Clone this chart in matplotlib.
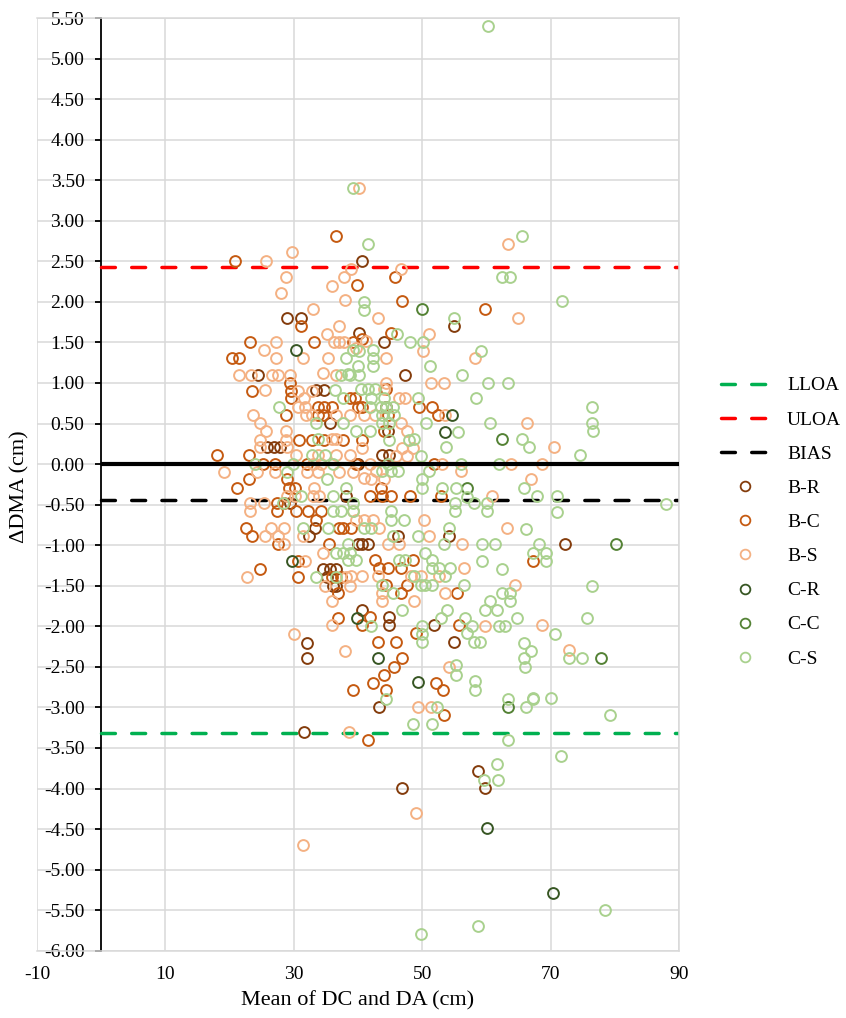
import matplotlib
matplotlib.use('Agg')
import matplotlib.pyplot as plt
from matplotlib.lines import Line2D

# limits of agreement
BIAS = -0.44
ULOA = 2.43
LLOA = -3.31
LINE_START, LINE_END = 0, 90   # reference lines run from the y axis to the right edge

# mean of DC and DA (x) and difference in DMA (y), per group
br_x = [40.6, 29.0, 31.1, 40.2, 44.1, 54.9, 47.3, 24.5, 33.4, 34.7, 35.7, 25.9, 26.9, 27.9,
        44.4, 44.6, 43.8, 44.9, 40.0, 38.2, 29.4, 33.3, 32.4, 34.6, 35.6, 36.6, 35.1, 36.1,
        36.6, 32.1, 32.1, 46.3, 54.2, 40.7, 41.5, 40.0, 40.7, 44.9, 44.9, 51.8, 54.9, 72.2,
        43.3, 31.6, 58.7, 59.8, 46.8]
br_y = [2.50, 1.80, 1.80, 1.62, 1.51, 1.70, 1.10, 1.10, 0.91, 0.91, 0.51, 0.21, 0.21, 0.21,
        0.71, 0.41, 0.11, 0.11, 0.00, -0.39, -0.48, -0.79, -0.89, -1.29, -1.29, -1.29, -1.39, -1.50,
        -1.50, -2.20, -2.39, -0.89, -0.89, -0.99, -0.99, -0.99, -1.80, -1.88, -1.99, -1.99, -2.19, -0.99,
        -3.00, -3.30, -3.79, -3.99, -3.99]

bc_x = [36.5, 20.8, 45.8, 39.8, 46.8, 59.8, 45.1, 31.1, 23.2, 33.2, 39.2, 20.4, 21.4, 23.5,
        29.4, 29.5, 29.5, 39.5, 28.8, 33.7, 34.7, 35.9, 33.7, 34.6, 30.8, 32.8, 34.7, 37.7,
        18.0, 23.0, 49.5, 51.6, 52.5, 40.7, 44.4, 38.7, 40.0, 40.7, 44.6, 44.1, 40.7,
        25.2, 27.1, 32.0, 39.7, 51.8,
        23.1, 21.2, 29.0, 30.2, 29.2, 27.4, 27.4, 28.4, 30.3, 32.2, 34.3, 33.4, 22.5, 23.5,
        27.5, 35.5, 37.1, 37.7, 38.9, 30.7, 24.7, 30.7, 36.9, 35.9, 37.4, 36.9, 39.3, 43.6,
        43.8, 45.1, 48.1, 53.0, 41.8, 42.6, 43.3, 44.6, 48.5, 46.7, 44.4, 47.7, 46.7, 55.4,
        41.8, 40.7, 49.0, 55.7, 43.1, 45.9, 46.9, 45.6, 44.1, 42.3, 52.1, 53.2, 44.4, 67.3,
        53.4, 41.6]
bc_y = [2.81, 2.50, 2.31, 2.21, 2.01, 1.91, 1.62, 1.70, 1.51, 1.51, 1.51, 1.31, 1.31, 0.90,
        1.00, 0.90, 0.81, 0.82, 0.61, 0.71, 0.71, 0.71, 0.61, 0.61, 0.30, 0.30, 0.30, 0.30,
        0.11, 0.11, 0.71, 0.71, 0.61, 1.54, 0.92, 0.82, 0.71, 0.71, 0.61, 0.41, 0.30,
        0.00, 0.00, 0.00, 0.00, 0.00,
        -0.19, -0.29, -0.19, -0.29, -0.29, -0.48, -0.58, -0.48, -0.58, -0.58, -0.58, -0.69, -0.79, -0.89,
        -0.99, -0.99, -0.79, -0.79, -0.79, -1.19, -1.29, -1.39, -1.59, -1.39, -1.39, -1.90, -2.79, -0.29,
        -0.39, -0.39, -0.39, -0.39, -0.39, -1.18, -1.28, -1.28, -1.18, -1.28, -1.49, -1.49, -1.59, -1.59,
        -1.88, -1.99, -2.08, -1.99, -2.19, -2.19, -2.39, -2.50, -2.60, -2.70, -2.70, -2.78, -2.78, -1.19,
        -3.09, -3.40]

bs_x = [40.2, 63.4, 25.7, 29.7, 46.7, 28.8, 28.0, 35.9, 37.8, 38.9, 37.9, 33.0, 43.1, 64.9,
        37.1, 35.1, 37.1, 36.2, 37.8, 27.2, 51.1, 25.4, 50.1, 27.3, 31.4, 35.3, 58.2, 44.3,
        39.7, 41.3, 21.4, 23.4, 26.6, 27.6, 29.4, 34.5, 36.5, 25.5, 30.7, 31.6, 32.8, 44.4,
        44.1, 51.3, 53.4, 46.4, 47.4, 23.6, 24.8, 24.8, 25.7, 30.7, 31.9, 32.8, 31.7, 36.6,
        38.7, 41.0, 42.6, 53.6, 66.3, 46.7, 47.7, 28.8, 28.8, 35.9, 36.6, 24.8, 28.9, 46.9,
        48.5, 40.7, 70.6, 36.6, 38.7, 30.4, 33.8, 45.9, 47.7,
        33.0, 34.3, 41.8, 53.1, 63.8, 68.7,
        19.1, 24.3, 27.1, 32.0, 33.8, 37.1, 39.2, 56.0, 42.8, 41.0, 42.0, 44.1, 66.9, 33.2,
        33.0, 34.0, 28.9, 30.2, 60.8, 23.2, 25.3, 23.2, 39.2, 50.3, 39.7, 41.0, 42.3, 43.3,
        63.2, 25.5, 26.4, 28.5, 27.5, 28.5, 31.4, 34.6, 31.7, 51.1, 56.2, 44.6, 46.4, 56.5,
        38.9, 40.7, 43.1, 48.2, 49.8, 52.6, 64.5, 53.6, 48.7, 43.8, 43.8, 22.7, 34.8, 38.7,
        38.2, 35.9, 35.9, 30.0, 38.0, 59.8, 54.1, 68.7, 72.8, 49.4, 51.3, 38.6, 49.0, 31.4]
bs_y = [3.41, 2.71, 2.50, 2.61, 2.41, 2.31, 2.11, 2.20, 2.31, 2.41, 2.02, 1.91, 1.80, 1.80,
        1.70, 1.61, 1.51, 1.51, 1.51, 1.51, 1.61, 1.41, 1.40, 1.31, 1.31, 1.31, 1.31, 1.31,
        1.43, 1.52, 1.10, 1.10, 1.10, 1.10, 1.10, 1.12, 1.10, 0.91, 0.90, 0.81, 0.90, 1.00,
        0.92, 1.00, 1.00, 0.82, 0.82, 0.61, 0.51, 0.30, 0.41, 0.71, 0.61, 0.61, 0.71, 0.61,
        0.61, 0.61, 0.61, 0.61, 0.51, 0.51, 0.41, 0.41, 0.30, 0.31, 0.31, 0.21, 0.21, 0.20,
        0.20, 0.20, 0.21, 0.11, 0.11, 0.11, 0.11, 0.10, 0.10,
        0.00, 0.00, 0.00, 0.00, 0.00, 0.00,
        -0.10, -0.10, -0.10, -0.10, -0.10, -0.10, -0.10, -0.09, -0.09, -0.17, -0.19, -0.19, -0.19, -0.29,
        -0.39, -0.39, -0.39, -0.39, -0.39, -0.48, -0.48, -0.58, -0.58, -0.69, -0.69, -0.69, -0.69, -0.79,
        -0.79, -0.89, -0.79, -0.79, -0.89, -0.99, -0.89, -1.10, -1.19, -0.89, -0.99, -0.99, -0.99, -1.28,
        -1.38, -1.38, -1.38, -1.38, -1.38, -1.38, -1.49, -1.59, -1.69, -1.69, -1.59, -1.39, -1.50, -1.50,
        -1.39, -1.69, -1.99, -2.09, -2.30, -2.00, -2.50, -1.99, -2.29, -3.00, -3.00, -3.30, -4.30, -4.70]

cr_x = [30.3, 54.6, 53.6, 29.7, 39.9, 43.1, 49.3, 60.1, 70.4]
cr_y = [1.41, 0.61, 0.40, -1.19, -1.90, -2.39, -2.69, -4.49, -5.29]

cc_x = [49.9, 62.5, 57.0, 80.2, 77.8, 63.3]
cc_y = [1.91, 0.31, -0.29, -0.99, -2.39, -3.00]

cs_x = [60.3, 39.2, 41.6, 65.5, 62.5, 63.7, 40.9, 40.9, 54.9, 71.7, 46.1, 48.1, 50.1, 59.1,
        51.2, 56.2, 60.3, 63.3, 58.4, 49.4, 50.6, 60.6, 55.6, 65.5, 53.7, 48.7, 76.4, 76.4,
        76.6, 66.7, 74.6, 38.2, 39.2, 40.0, 37.4, 38.4, 36.4, 37.7, 27.7, 33.5, 37.7, 39.7,
        33.8, 34.8, 32.8, 40.2, 42.3, 42.3, 42.3, 40.2, 38.7, 40.5, 41.5, 42.6, 42.0, 44.1,
        43.6, 44.4, 41.8, 45.4, 43.8, 45.6, 43.8, 44.9, 41.8, 44.9, 49.8, 44.6, 47.9,
        24.0, 29.9, 36.1, 56.0, 61.9,
        29.0, 35.1, 38.2, 36.1, 31.2, 28.3, 36.1, 37.4, 39.2, 31.5, 35.3, 38.4, 36.6, 37.7,
        38.7, 38.4, 39.7, 33.5, 36.6, 43.8, 45.1, 46.2, 51.1, 50.0, 49.9, 53.1, 55.2, 57.0,
        58.0, 60.1, 60.1, 55.1, 55.1, 39.2, 45.1, 47.2, 45.1, 41.0, 42.0, 49.4, 45.4, 54.1,
        53.4, 59.3, 61.4, 59.3, 62.5, 46.4, 47.4, 50.5, 51.6, 52.6, 54.4, 51.5, 48.7, 50.5,
        51.6, 56.5, 53.6, 43.8, 45.4, 49.8, 62.4, 63.7, 63.7, 60.6, 59.8, 61.6, 64.8, 53.9,
        52.9, 56.7, 57.7, 61.9, 62.9, 50.0, 50.0, 50.0, 46.9, 42.0, 57.0, 58.0, 59.0, 55.2,
        55.2, 58.3, 58.3, 44.4,
        65.9, 67.9, 71.0, 71.0, 87.9, 66.1, 68.2, 67.3, 69.3, 69.3, 76.4, 75.6, 70.7, 65.9,
        66.9, 65.9, 66.0, 72.8, 74.9, 67.3, 70.1,
        63.3, 67.2, 66.2, 79.2, 52.3, 48.5, 51.5, 63.4, 71.6, 61.6, 59.7, 61.8, 78.5, 58.7,
        49.8]
cs_y = [5.40, 3.41, 2.71, 2.81, 2.31, 2.31, 2.00, 1.90, 1.80, 2.01, 1.61, 1.51, 1.51, 1.40,
        1.21, 1.10, 1.00, 1.00, 0.81, 0.82, 0.51, 0.51, 0.40, 0.31, 0.21, 0.31, 0.71, 0.51,
        0.41, 0.21, 0.11, 1.31, 1.41, 1.21, 1.10, 1.11, 0.91, 0.81, 0.71, 0.51, 0.51, 0.41,
        0.31, 0.11, 0.11, 1.39, 1.41, 1.31, 1.21, 1.10, 1.10, 0.92, 0.92, 0.92, 0.82, 0.82,
        0.71, 0.71, 0.71, 0.71, 0.61, 0.61, 0.51, 0.51, 0.41, 0.30, 0.10, 0.00, 0.30,
        0.00, 0.00, 0.00, 0.00, 0.00,
        -0.10, -0.19, -0.29, -0.39, -0.39, -0.48, -0.58, -0.58, -0.48, -0.79, -0.79, -0.99, -1.10, -1.10,
        -1.10, -1.18, -1.18, -1.39, -1.39, -0.09, -0.09, -0.09, -0.09, -0.19, -0.29, -0.29, -0.29, -0.40,
        -0.48, -0.48, -0.58, -0.48, -0.58, -0.58, -0.58, -0.69, -0.69, -0.79, -0.79, -0.89, -0.89, -0.79,
        -0.99, -0.99, -0.99, -1.20, -1.29, -1.18, -1.18, -1.10, -1.18, -1.28, -1.28, -1.28, -1.38, -1.49,
        -1.49, -1.49, -1.38, -1.49, -1.59, -1.49, -1.59, -1.59, -1.69, -1.69, -1.80, -1.80, -1.90, -1.80,
        -1.90, -1.90, -2.00, -2.00, -2.00, -2.00, -2.10, -2.19, -1.80, -2.00, -2.08, -2.19, -2.19, -2.48,
        -2.60, -2.68, -2.78, -2.90,
        -0.29, -0.39, -0.39, -0.59, -0.49, -0.80, -0.99, -1.10, -1.10, -1.19, -1.50, -1.90, -2.09, -2.20,
        -2.30, -2.39, -2.50, -2.39, -2.39, -2.89, -2.89,
        -2.90, -2.90, -3.00, -3.09, -3.00, -3.20, -3.20, -3.40, -3.60, -3.70, -3.90, -3.90, -5.50, -5.70,
        -5.80]

groups = [
    ('B-R', br_x, br_y, '#843C0C'),
    ('B-C', bc_x, bc_y, '#C55A11'),
    ('B-S', bs_x, bs_y, '#F4B183'),
    ('C-R', cr_x, cr_y, '#375623'),
    ('C-C', cc_x, cc_y, '#548235'),
    ('C-S', cs_x, cs_y, '#A9D18E'),
]

plt.rcParams['font.family'] = ['Liberation Serif', 'DejaVu Serif']
plt.rcParams['axes.unicode_minus'] = False

fig = plt.figure(figsize=(8.46, 10.18), dpi=100)
ax = fig.add_axes([0.0437, 0.0661, 0.7589, 0.9162])

grid_col = '#D9D9D9'
dash = (4, 4.7)

ax.set_xlim(-10, 90)
ax.set_ylim(-6, 5.5)
ax.set_xticks(range(-10, 91, 20))
ax.set_yticks([v / 2 for v in range(-12, 12)])
ax.yaxis.set_major_formatter(plt.FuncFormatter(lambda v, p: f'{v:.2f}'))
ax.grid(True, color=grid_col, linewidth=1.1, zorder=0)
ax.set_axisbelow(True)

for s in ['top', 'right', 'bottom']:
    ax.spines[s].set_color(grid_col)
    ax.spines[s].set_linewidth(1.1)
ax.spines['left'].set_position(('data', 0))
ax.spines['left'].set_linewidth(1.3)
ax.spines['left'].set_zorder(1)

ax.tick_params(axis='y', direction='out', length=4, width=1.3, pad=8, labelsize=14)
ax.tick_params(axis='x', length=0, pad=11, labelsize=14)

# limits of agreement lines
ax.hlines(LLOA, LINE_START, LINE_END, color='#00B050', lw=2.5, linestyles=[(0, dash)],
          capstyle='round', zorder=2)
ax.hlines(ULOA, LINE_START, LINE_END, color='#FF0000', lw=2.5, linestyles=[(0, dash)],
          capstyle='round', zorder=2)
ax.hlines(BIAS, LINE_START, LINE_END, color='black', lw=2.5, linestyles=[(0, dash)],
          capstyle='round', zorder=2)

for name, xs, ys, col in groups:
    ax.plot(xs, ys, linestyle='none', marker='o', markersize=7.8, markerfacecolor='none',
            markeredgecolor=col, markeredgewidth=1.4, zorder=3)

ax.hlines(0, LINE_START, LINE_END, color='black', lw=3, zorder=4)

ax.set_xlabel('Mean of DC and DA (cm)', fontsize=16, labelpad=6)
ax.set_ylabel('\u0394DMA (cm)', fontsize=16)
ax.yaxis.set_label_coords(-0.011, 0.497)

handles = [
    Line2D([], [], color='#00B050', lw=2.5, dashes=dash, dash_capstyle='round'),
    Line2D([], [], color='#FF0000', lw=2.5, dashes=dash, dash_capstyle='round'),
    Line2D([], [], color='black', lw=2.5, dashes=dash, dash_capstyle='round'),
]
labels = ['LLOA', 'ULOA', 'BIAS']
for name, xs, ys, col in groups:
    handles.append(Line2D([], [], linestyle='none', marker='o', markersize=7, markerfacecolor='none',
                          markeredgecolor=col, markeredgewidth=1.3))
    labels.append(name)

fig.legend(handles, labels, loc='center left', bbox_to_anchor=(0.852, 0.487), frameon=False,
           fontsize=14, handlelength=2.5, handletextpad=0.9, labelspacing=0.85,
           borderpad=0, borderaxespad=0, numpoints=1)

fig.savefig('out.png', dpi=100)
